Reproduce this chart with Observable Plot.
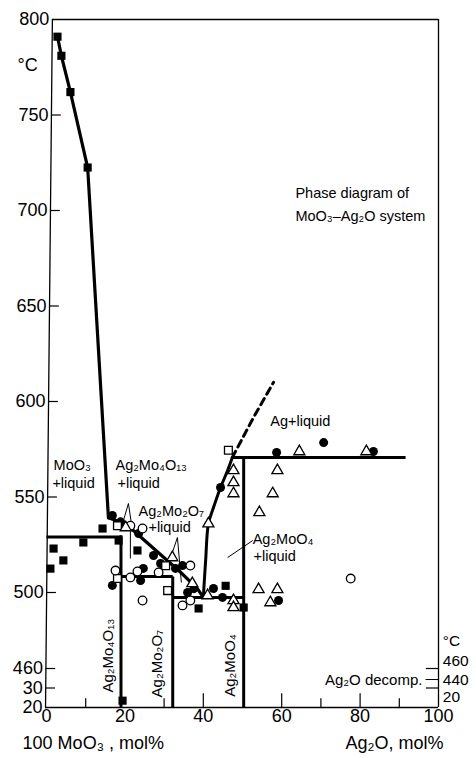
<!DOCTYPE html>
<html><head><meta charset="utf-8">
<script src="https://cdn.jsdelivr.net/npm/d3@7"></script>
<script src="https://cdn.jsdelivr.net/npm/@observablehq/plot@0.6"></script>
<style>body{margin:0;background:#fff}svg{display:block}</style>
</head><body><div id="chart"></div>
<script>
// ---- data (x = Ag2O mol%, y = temperature °C) ----
const filledSquares = [[2.8,791],[3.8,781],[6.1,762],[10.5,722.5],[1.8,523],[1.0,512.5],[4.3,516.8],[9.4,526.2],[14.3,533.5],[18.4,527.2],[19.4,427],[23.2,522],[38.8,491.6],[45.7,503.5],[50.3,492.1]];
const openSquares = [[18.1,535],[18.1,507.3],[30.4,514],[30.9,501],[46.4,574.5]];
const filledCircles = [[16.8,540.3],[18.9,537],[23.5,530.9],[27.3,519.4],[29.1,515.2],[16.8,503.7],[24.0,506.3],[24.7,512.6],[32.9,512.6],[34.7,514.1],[36.0,500],[37.6,502],[42.6,502.1],[44.9,497.4],[59.2,495.8],[44.4,555],[58.7,573.3],[70.7,578.5],[83.4,573.8]];
const openCircles = [[21.4,535],[24.5,533.5],[17.6,511.5],[21.4,507.9],[23.2,511],[28.6,510.5],[36.7,514.1],[24.5,495.8],[34.7,493.2],[36.7,495.8],[77.6,507.3]];
const openTriangles = [[20.2,534],[32.1,518.3],[37.2,504.7],[41.1,498.4],[47.7,495.8],[47.7,492.1],[41.3,536],[47.7,563.9],[47.7,557.6],[47.7,551.8],[58.9,563.9],[57.7,551.8],[54.3,541.9],[54.1,501.6],[58.9,501.6],[57.1,494.7],[64.5,573.8],[81.6,573.8]];

// phase boundaries
const liquidusMoO3 = [[2.8,791],[3.8,781],[6.1,762],[10.5,722.5],[15.8,539],[17.5,538],[20.5,535.5],[29,520],[34,511],[38.5,502],[40,497.4]];
const liquidusAg2MoO4 = [[40,497.4],[40.6,516.8],[41.3,536],[42.6,544.5],[44.4,555],[46.2,563.9],[47.4,570.7]];
const liquidusDashed = [[47.4,570.7],[52.8,591.6],[57.9,610]];
const thickSegments = [
  [0,529,19,529],[19,530,19,420],
  [19,508.4,32.2,508.4],[32.2,508.4,32.2,420],
  [32.2,497.4,50.3,497.4],[50.3,570.7,50.3,420],
  [47.4,570.7,91.6,570.7]
];
const thinSegments = [
  [20.9,546.6,19.1,534],[20.9,546.6,21.7,535.6],
  [21.4,534,21.4,517.8],
  [33.4,528.8,31.6,517.8],[33.4,528.8,34.4,505.2],
  [52.6,527.2,46.2,518.3],
  [96.7,448.7,100,448.7]
];

// axes
const xTickValues = [0,20,40,60,80,100];
const xTickLabels = ["0","20","40","60","80","100"];
const xInnerMajor = [40,60,80];
const xInnerMinor = [10,30,70,90];
const yTickValues = [800,750,700,650,600,550,500,460,440,420];
const yTickLabels = ["800","750","700","650","600","550","500","460","30","20"];
const yInnerTicks = [750,700,650,600,550,500,460,440];
const rightTickValues = [460,440];
const rightLabels = [{y:474.5,text:"°C"},{y:464,text:"460"},{y:447.7,text:"440"},{y:430.5,text:"20"}];

// annotations
const labels = [
  {x:63.5,y:709,text:"Phase diagram of"},
  {x:63.5,y:697,text:"MoO₃–Ag₂O system"},
  {x:1.8,y:566.5,text:"MoO₃"},
  {x:1.5,y:557,text:"+liquid"},
  {x:17.6,y:566.5,text:"Ag₂Mo₄O₁₃"},
  {x:18.1,y:557,text:"+liquid"},
  {x:23.5,y:542.4,text:"Ag₂Mo₂O₇"},
  {x:26,y:534,text:"+liquid"},
  {x:57.1,y:589.5,text:"Ag+liquid"},
  {x:52.6,y:527.7,text:"Ag₂MoO₄"},
  {x:52.8,y:518.8,text:"+liquid"}
];
const rotatedLabels = [
  {x:15.8,y:466.8,text:"Ag₂Mo₄O₁₃"},
  {x:28.3,y:462.6,text:"Ag₂Mo₂O₇"},
  {x:46.9,y:461.6,text:"Ag₂MoO₄"}
];

const FONT = "'Liberation Sans', 'DejaVu Sans', sans-serif";
// broken temperature axis: 420–460 °C compressed, 460–800 °C regular
const U = d3.scaleLinear().domain([420, 460, 500, 800]).range([0, 39, 115, 688]);
const pts = a => a.map(([x, y]) => ({x, y: U(y)}));
const segs = a => a.map(([x1, y1, x2, y2]) => ({x1, y1: U(y1), x2, y2: U(y2)}));
const withU = a => a.map(d => ({...d, y: U(d.y)}));
// slightly tilted left border of the original drawing
const leftEdge = d3.scaleLinear().domain([420,460,500,800]).range([-0.25,-0.15,0.04,1.5]);
const leftBorder = [420,460,500,800].map(T => ({x: leftEdge(T), y: U(T)}));

const chart = Plot.plot({
  width: 476, height: 758,
  marginTop: 19, marginRight: 38, marginBottom: 51, marginLeft: 46,
  style: {fontFamily: FONT, background: "white", color: "black", overflow: "visible"},
  x: {domain: [0, 100], axis: null},
  y: {domain: [U(420), U(800)], axis: null},
  marks: [
    // frame
    Plot.line(leftBorder, {x: "x", y: "y", stroke: "black", strokeWidth: 1.3}),
    Plot.ruleY([U(800)], {x1: leftEdge(800), x2: 100, stroke: "black", strokeWidth: 1.3}),
    Plot.ruleY([U(420)], {x1: leftEdge(420), x2: 100, stroke: "black", strokeWidth: 1.4}),
    Plot.ruleX([100], {y1: U(420), y2: U(800), stroke: "black", strokeWidth: 1.3}),
    // inner ticks
    Plot.ruleY(yInnerTicks, {y: d => U(d), x1: d => leftEdge(d), x2: d => leftEdge(d) + 2.5, stroke: "black", strokeWidth: 1.2}),
    Plot.ruleX(xInnerMajor, {x: d => d, y1: U(420), y2: U(434), stroke: "black", strokeWidth: 1.2}),
    Plot.ruleX(xInnerMinor, {x: d => d, y1: U(420), y2: U(429), stroke: "black", strokeWidth: 1.2}),
    Plot.ruleY(rightTickValues, {y: d => U(d), x1: 96.9, x2: 100, stroke: "black", strokeWidth: 1.2}),
    // phase boundaries
    Plot.line(pts(liquidusMoO3), {x: "x", y: "y", stroke: "black", strokeWidth: 3.2, strokeLinejoin: "round"}),
    Plot.line(pts(liquidusAg2MoO4), {x: "x", y: "y", stroke: "black", strokeWidth: 3, curve: "catmull-rom"}),
    Plot.line(pts(liquidusDashed), {x: "x", y: "y", stroke: "black", strokeWidth: 3, strokeDasharray: "7,5"}),
    Plot.link(segs(thickSegments), {x1: "x1", y1: "y1", x2: "x2", y2: "y2", stroke: "black", strokeWidth: 3}),
    Plot.link(segs(thinSegments), {x1: "x1", y1: "y1", x2: "x2", y2: "y2", stroke: "black", strokeWidth: 1}),
    // experimental points
    Plot.dot(pts(filledSquares), {x: "x", y: "y", symbol: "square", r: 4.6, fill: "black"}),
    Plot.dot(pts(filledCircles), {x: "x", y: "y", symbol: "circle", r: 4.5, fill: "black"}),
    Plot.dot(pts(openSquares), {x: "x", y: "y", symbol: "square", r: 4.4, fill: "white", stroke: "black", strokeWidth: 1.3}),
    Plot.dot(pts(openCircles), {x: "x", y: "y", symbol: "circle", r: 4.3, fill: "white", stroke: "black", strokeWidth: 1.3}),
    Plot.dot(pts(openTriangles), {x: "x", y: "y", symbol: "triangle", r: 4.1, fill: "white", stroke: "black", strokeWidth: 1.3}),
    // axis labels
    Plot.text(yTickValues, {x: d => leftEdge(d), y: d => U(d), text: (d, i) => yTickLabels[i], textAnchor: "end", dx: -3, fontSize: 18, fill: "black"}),
    Plot.text(withU([{x: -7.4, y: 776}]), {x: "x", y: "y", text: () => "°C", textAnchor: "start", fontSize: 18, fill: "black"}),
    Plot.text(xTickValues, {x: d => d, frameAnchor: "bottom", dy: 14, text: (d, i) => xTickLabels[i], fontSize: 18, fill: "black"}),
    Plot.text(withU(rightLabels), {x: 101.1, y: "y", text: "text", textAnchor: "start", fontSize: 15.5, fill: "black"}),
    Plot.text([{x: -6.1, text: "100 MoO₃ , mol%"}, {x: 76.3, text: "Ag₂O, mol%"}], {x: "x", frameAnchor: "bottom", dy: 41, text: "text", textAnchor: "start", fontSize: 18, fill: "black"}),
    // region labels
    Plot.text(withU(labels), {x: "x", y: "y", text: "text", textAnchor: "start", fontSize: 14.5, fill: "black"}),
    Plot.text(withU(rotatedLabels), {x: "x", y: "y", text: "text", rotate: -90, fontSize: 15, fill: "black"}),
    Plot.text(withU([{x: 95.9, y: 448.5, text: "Ag₂O decomp."}]), {x: "x", y: "y", text: "text", textAnchor: "end", fontSize: 15, fill: "black"})
  ]
});
document.getElementById("chart").appendChild(chart);
</script>
</body></html>
